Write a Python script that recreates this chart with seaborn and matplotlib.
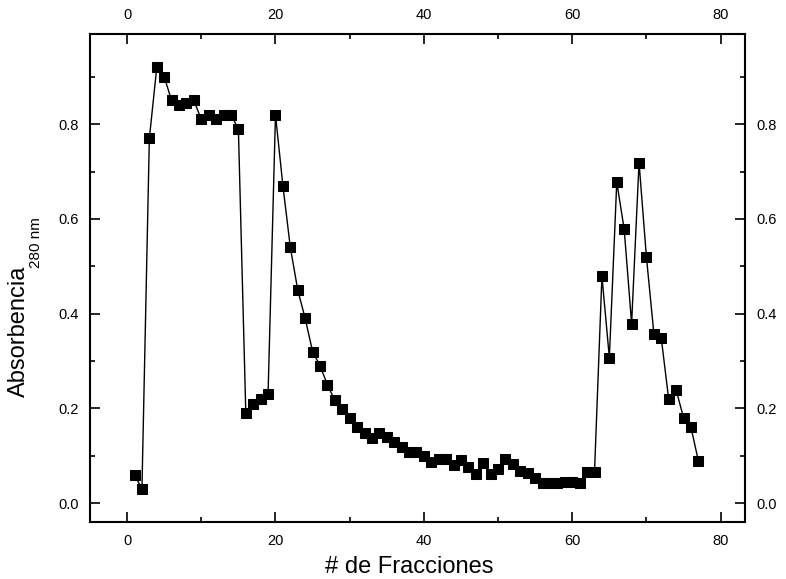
import matplotlib
matplotlib.use("Agg")
import matplotlib.pyplot as plt
import numpy as np
import pandas as pd
import seaborn as sns
from matplotlib.ticker import MultipleLocator

# Fractions and absorbance at 280 nm
fraccion = list(range(1, 78))
absorbancia = [
    0.06, 0.03, 0.77, 0.92, 0.90, 0.85, 0.84, 0.845, 0.85, 0.81,
    0.82, 0.81, 0.82, 0.82, 0.79, 0.19, 0.21, 0.22, 0.23, 0.82,
    0.67, 0.54, 0.45, 0.39, 0.32, 0.29, 0.25, 0.217, 0.198, 0.179,
    0.16, 0.148, 0.137, 0.148, 0.139, 0.129, 0.118, 0.108, 0.108, 0.099,
    0.087, 0.094, 0.094, 0.08, 0.09, 0.077, 0.061, 0.084, 0.061, 0.072,
    0.093, 0.082, 0.068, 0.064, 0.053, 0.042, 0.042, 0.042, 0.045, 0.045,
    0.042, 0.066, 0.066, 0.479, 0.307, 0.678, 0.578, 0.379, 0.719, 0.519,
    0.358, 0.348, 0.219, 0.239, 0.18, 0.16, 0.089,
]

df = pd.DataFrame({"fraccion": fraccion, "abs": absorbancia})

sns.set_style("ticks")
plt.rcParams["font.family"] = ["Liberation Sans", "DejaVu Sans"]
plt.rcParams["text.color"] = "black"
plt.rcParams["axes.labelcolor"] = "black"

fig = plt.figure(figsize=(7.86, 5.79), dpi=100)
ax = fig.add_axes([0.1145, 0.0984, 0.8335, 0.8426])

sns.lineplot(data=df, x="fraccion", y="abs", ax=ax, color="black",
             linewidth=1.0, marker="s", markersize=7.5,
             markeredgecolor="black", markerfacecolor="black")

ax.set_xlim(-5, 83.3)
ax.set_ylim(-0.04, 0.99)
ax.xaxis.set_major_locator(MultipleLocator(20))
ax.xaxis.set_minor_locator(MultipleLocator(10))
ax.yaxis.set_major_locator(MultipleLocator(0.2))
ax.yaxis.set_minor_locator(MultipleLocator(0.1))
ax.yaxis.set_major_formatter(plt.FuncFormatter(lambda v, p: f"{v:.1f}"))

ax.tick_params(which="both", direction="in", top=True, right=True,
               labeltop=True, labelright=True, labelsize=10.5, width=1.2,
               color="black", labelcolor="black")
ax.tick_params(which="major", length=7)
ax.tick_params(which="minor", length=3.6)
ax.tick_params(axis="x", which="major", pad=8.5)
ax.tick_params(axis="y", which="major", pad=8)
for s in ax.spines.values():
    s.set_linewidth(1.5)
    s.set_color("black")

ax.set_xlabel("# de Fracciones", fontsize=17, va="center")
ax.xaxis.set_label_coords(0.487, -0.092)

# y label with a small subscript, as in the original figure
ax.set_ylabel("Absorbencia", fontsize=17, va="center")
ax.yaxis.set_label_coords(-0.109, 0.391)
ax.text(-0.083, 0.572, "280 nm", transform=ax.transAxes, rotation=90,
        fontsize=11, ha="center", va="center")

fig.savefig("out.png", dpi=100)
